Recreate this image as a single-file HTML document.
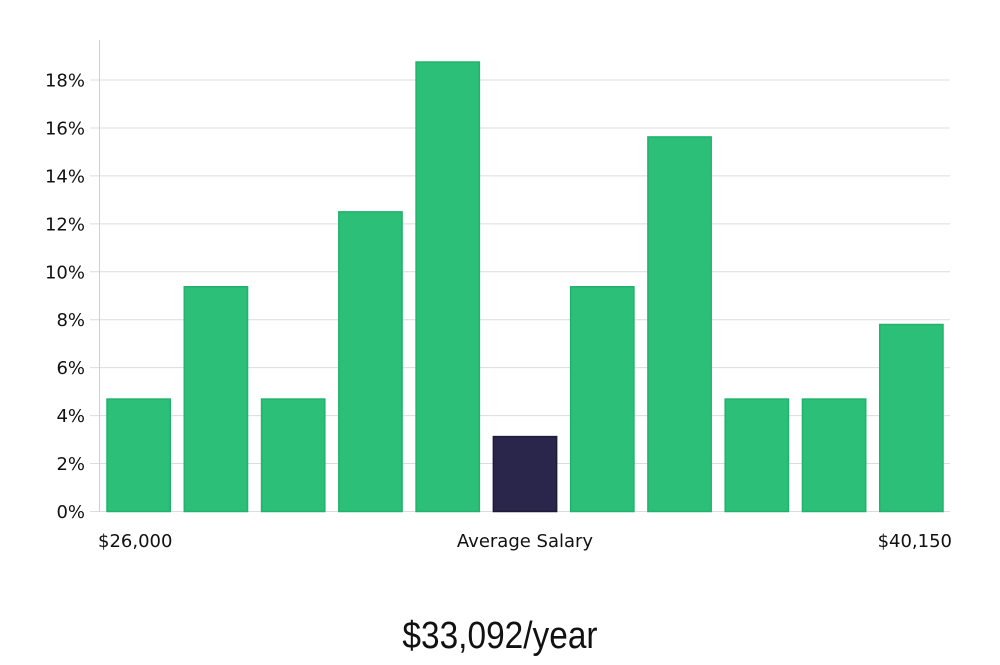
<!DOCTYPE html>
<html><head><meta charset="utf-8"><style>
body{margin:0;background:#fff;width:1000px;height:660px;overflow:hidden}
text{font-family:"DejaVu Sans","Liberation Sans",sans-serif}
</style></head><body>
<svg id="chart" width="1000" height="660" xmlns="http://www.w3.org/2000/svg">
<g id="grid"></g>
<g id="yaxis"></g>
<g id="bars"></g>
<text x="98" y="547" font-size="18" fill="#111">$26,000</text>
<text x="525" y="547" font-size="18" fill="#111" text-anchor="middle">Average Salary</text>
<text x="952" y="547" font-size="18" fill="#111" text-anchor="end">$40,150</text>
<text x="500" y="648" font-size="38" fill="#111" text-anchor="middle" transform="translate(500 0) scale(0.88 1) translate(-500 0)" style="font-family:'Liberation Sans',sans-serif;font-weight:300">$33,092/year</text>
</svg>
<script>
const values = [4.69, 9.375, 4.69, 12.5, 18.75, 3.125, 9.375, 15.625, 4.69, 4.69, 7.8];
const highlight = [false, false, false, false, false, true, false, false, false, false, false];
const yTicks = [0, 2, 4, 6, 8, 10, 12, 14, 16, 18];
const tickLabels = ["0%", "2%", "4%", "6%", "8%", "10%", "12%", "14%", "16%", "18%"];
const NS = "http://www.w3.org/2000/svg";
const y0 = 511.5, pxPer = (511.5 - 80) / 18;
const yS = v => y0 - v * pxPer;
const xL = 100, xR = 950;
const pitch = (xR - xL) / values.length;
const xS = i => xL + 7 + i * pitch;
const bw = pitch - 14;
const grid = document.getElementById('grid'), yaxis = document.getElementById('yaxis'), bars = document.getElementById('bars');
function mk(tag, attrs){const e=document.createElementNS(NS,tag);for(const k in attrs)e.setAttribute(k,attrs[k]);return e;}
yTicks.forEach((t, i) => {
  const l = mk('line', {x1: 90, x2: xR, y1: yS(t), y2: yS(t), stroke: '#dcdcdc', 'stroke-width': 1});
  
  
  grid.appendChild(l);
  const tx = mk('text', {x: 85, y: yS(t) + 6.5, 'font-size': 18, fill: '#111', 'text-anchor': 'end'});
  tx.textContent = tickLabels[i];
  
  
  yaxis.appendChild(tx);
});
const ax = mk('line', {x1: 99.5, x2: 99.5, y1: 40, y2: y0, stroke: '#d0d0d0', 'stroke-width': 1});


yaxis.appendChild(ax);
values.forEach((v, i) => {
  const h = highlight[i];
  const r = mk('rect', {x: xS(i), y: yS(v), width: bw, height: y0 - yS(v),
    fill: h ? '#2a254a' : '#2bbf78', stroke: h ? '#1d1a3a' : '#22b26d', 'stroke-width': 1.5});
  
  
  bars.appendChild(r);
});
</script>
</body></html>
